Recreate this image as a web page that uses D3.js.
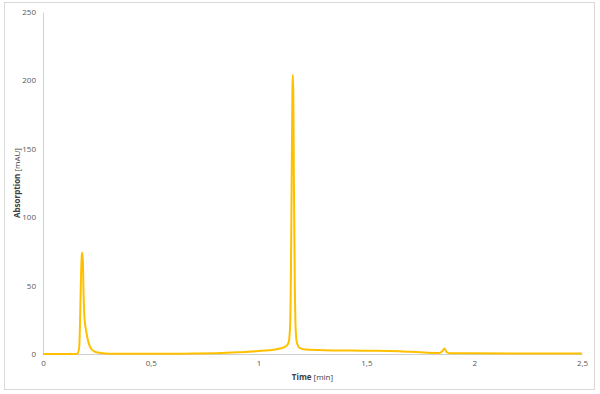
<!DOCTYPE html>
<html lang="en">
<head>
<meta charset="UTF-8">
<title>Chromatogram</title>
<style>
  body { margin: 0; background: #fff; }
  text { font-family: "Open Sans", "Noto Sans", sans-serif; }
</style>
</head>
<body>
<svg></svg>
<script src="https://cdn.jsdelivr.net/npm/d3@7"></script>
<script>
// data
var times = [0, 0.15, 0.160, 0.168, 0.172, 0.176, 0.180, 0.182, 0.185, 0.188, 0.191, 0.195, 0.200, 0.207, 0.215, 0.225, 0.24, 0.26, 0.29, 0.33,
             0.5, 0.7, 0.8, 0.9, 1.0, 1.05, 1.1, 1.13, 1.14, 1.146, 1.150, 1.154, 1.157, 1.159, 1.161, 1.164, 1.168, 1.172, 1.178, 1.19, 1.22, 1.3, 1.5, 1.65, 1.75, 1.82,
             1.84, 1.852, 1.862, 1.872, 1.885, 2.0, 2.5];
var absorb = [0, 0, 0.3, 5, 25, 55, 72, 74, 68, 45, 30, 22, 17, 11, 6.5, 3.5, 1.8, 0.9, 0.4, 0.2,
              0.15, 0.3, 0.6, 1.2, 2.2, 2.8, 4, 6, 9, 20, 60, 140, 195, 204, 190, 120, 50, 18, 8, 4.5, 3.2, 2.8, 2.4, 2, 1.2, 0.8,
              0.8, 2, 4, 1.5, 0.6, 0.5, 0.4];
var xTicks = [0, 0.5, 1, 1.5, 2, 2.5];
var yTicks = [0, 50, 100, 150, 200, 250];

var W = 600, H = 394;
var marge = {top: 12, bottom: 40, left: 43, right: 18};

var svg = d3.select("svg").attr("width", W).attr("height", H);

svg.append("rect")
  .attr("x", 4.5).attr("y", 2.5)
  .attr("width", 590).attr("height", 387)
  .attr("fill", "#fff").attr("stroke", "#d9d9d9");

var x = d3.scaleLinear().domain([0, 2.5]).range([marge.left, W - marge.right]);
var y = d3.scaleLinear().domain([0, 250]).range([H - marge.bottom, marge.top]);

var fmt = function(d) { return String(d).replace(".", ","); };

// y axis
var yAxis = svg.append("g")
  .attr("transform", "translate(" + marge.left + ",0)")
  .call(d3.axisLeft(y).tickValues(yTicks).tickSize(0).tickPadding(7).tickFormat(fmt));
yAxis.select(".domain").attr("stroke", "#d0d0d0");
yAxis.selectAll("text").attr("font-size", "8px").attr("fill", "#595959");

// x axis
var xAxis = svg.append("g")
  .attr("transform", "translate(0," + y(0) + ")")
  .call(d3.axisBottom(x).tickValues(xTicks).tickSize(0).tickPadding(6).tickFormat(fmt));
xAxis.select(".domain").attr("stroke", "#d0d0d0");
xAxis.selectAll("text").attr("font-size", "8px").attr("fill", "#595959");

// axis titles
var xt = svg.append("text")
  .attr("x", (x(0) + x(2.5)) / 2)
  .attr("y", 380)
  .attr("text-anchor", "middle")
  .attr("font-size", "8px")
  .attr("fill", "#404040");
xt.append("tspan").attr("font-weight", "bold").text("Time ");
xt.append("tspan").text("[min]");

var yt = svg.append("text")
  .attr("transform", "translate(20," + ((y(0) + y(250)) / 2) + ") rotate(-90)")
  .attr("text-anchor", "middle")
  .attr("font-size", "8px")
  .attr("fill", "#404040");
yt.append("tspan").attr("font-weight", "bold").text("Absorption ");
yt.append("tspan").text("[mAU]");

// trace
var pts = times.map(function(t, i) { return [t, absorb[i]]; });
var line = d3.line()
  .x(function(d) { return x(d[0]); })
  .y(function(d) { return y(d[1]); })
  .curve(d3.curveMonotoneX);

svg.append("path")
  .datum(pts)
  .attr("d", line)
  .attr("fill", "none")
  .attr("stroke", "#FFC000")
  .attr("stroke-width", 2)
  .attr("stroke-linejoin", "round");
</script>
</body>
</html>
